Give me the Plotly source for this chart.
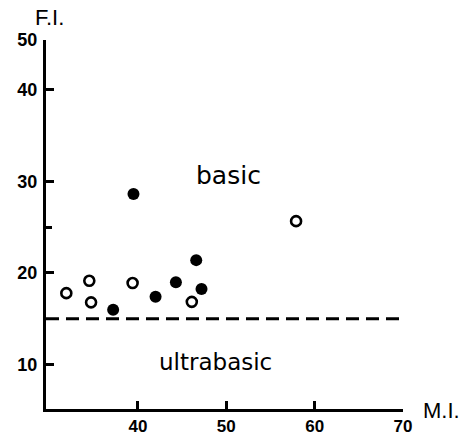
import plotly.graph_objects as go

# Data
open_mi = [31.9, 34.5, 34.7, 39.4, 46.1, 57.9]
open_fi = [17.8, 19.15, 16.8, 18.9, 16.85, 25.65]
filled_mi = [39.5, 37.2, 42.0, 44.3, 46.6, 47.2]
filled_fi = [28.6, 16.0, 17.4, 19.0, 21.4, 18.25]
boundary_fi = 15.0

x_tickvals = [40, 50, 60, 70]
x_ticktext = ["40", "50", "60", "70"]
y_tickvals = [10, 20, 30, 40, 45.4]
y_ticktext = ["10", "20", "30", "40", "50"]

x_range = [29.6, 70.0]
y_range = [5.17, 45.4]

fig = go.Figure()

fig.add_trace(go.Scatter(
    x=x_range, y=[boundary_fi, boundary_fi], mode="lines",
    line=dict(color="black", width=3, dash="13px,7px"),
    showlegend=False, hoverinfo="skip"))

fig.add_trace(go.Scatter(
    x=open_mi, y=open_fi, mode="markers",
    marker=dict(symbol="circle-open", size=10, color="black", line=dict(width=2.6, color="black")),
    showlegend=False))

fig.add_trace(go.Scatter(
    x=filled_mi, y=filled_fi, mode="markers",
    marker=dict(symbol="circle", size=12, color="black"),
    showlegend=False))

tickfont = dict(family="Liberation Sans", size=17, color="black", weight="bold")

fig.update_xaxes(
    range=x_range, showgrid=False, zeroline=False,
    showline=True, linecolor="black", linewidth=3,
    ticks="inside", ticklen=8, tickwidth=2.5, tickcolor="black",
    tickmode="array", tickvals=x_tickvals, ticktext=x_ticktext,
    tickfont=tickfont, ticklabelstandoff=0)

fig.update_yaxes(
    range=y_range, showgrid=False, zeroline=False,
    showline=True, linecolor="black", linewidth=3,
    ticks="inside", ticklen=8, tickwidth=2.5, tickcolor="black",
    tickmode="array", tickvals=y_tickvals, ticktext=y_ticktext,
    tickfont=dict(family="Liberation Sans", size=18, color="black", weight="bold"),
    ticklabelstandoff=2,
    minor=dict(tickmode="array", tickvals=[25], ticks="inside", ticklen=6, tickwidth=2.5, tickcolor="black"))

fig.add_annotation(x=50.2, y=30.66, text="basic", showarrow=False,
                   font=dict(family="DejaVu Sans", size=25, color="black"))
fig.add_annotation(x=48.8, y=10.3, text="ultrabasic", showarrow=False,
                   font=dict(family="DejaVu Sans", size=23, color="black"))
fig.add_annotation(x=0.011, y=1.06, xref="paper", yref="paper", text="F.I.", showarrow=False,
                   xanchor="center", yanchor="middle",
                   font=dict(family="Liberation Sans", size=22, color="black"))
fig.add_annotation(x=1.108, y=-0.005, xref="paper", yref="paper", text="M.I.", showarrow=False,
                   xanchor="center", yanchor="middle",
                   font=dict(family="Liberation Sans", size=22, color="black"))

fig.update_layout(
    width=466, height=439,
    margin=dict(l=46, r=62.5, t=40, b=30, autoexpand=False),
    plot_bgcolor="white", paper_bgcolor="white")

fig.write_html("out.html")
